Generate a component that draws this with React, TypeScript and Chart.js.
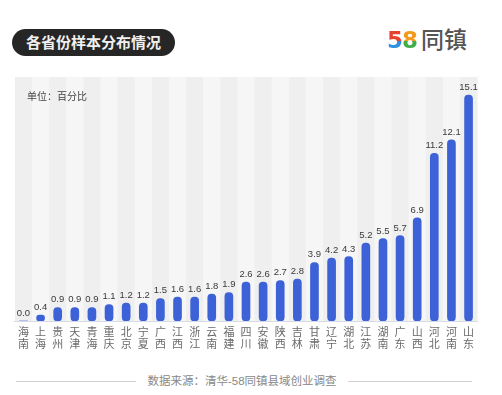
import React, { useEffect, useRef } from "react";
import { Chart, registerables } from "chart.js";

Chart.register(...registerables);

const provinces: string[] = ["海南", "上海", "贵州", "天津", "青海", "重庆", "北京", "宁夏", "广西", "江西", "浙江", "云南", "福建", "四川", "安徽", "陕西", "吉林", "甘肃", "辽宁", "湖北", "江苏", "湖南", "广东", "山西", "河北", "河南", "山东"];
const shares: number[] = [0.0, 0.4, 0.9, 0.9, 0.9, 1.1, 1.2, 1.2, 1.5, 1.6, 1.6, 1.8, 1.9, 2.6, 2.6, 2.7, 2.8, 3.9, 4.2, 4.3, 5.2, 5.5, 5.7, 6.9, 11.2, 12.1, 15.1];
const titleText = "各省份样本分布情况";
const unitText = "单位：百分比";
const sourceText = "数据来源：清华-58同镇县域创业调查";

const FONT = "'Liberation Sans', 'Noto Sans CJK SC', sans-serif";

const stripePlugin = {
  id: "stripes",
  beforeDraw(chart: any) {
    const { ctx, chartArea } = chart;
    const n = provinces.length;
    const w = (chartArea.right - chartArea.left) / n;
    ctx.save();
    for (let i = 0; i < n; i++) {
      ctx.fillStyle = i % 2 === 0 ? "#efefef" : "#f6f6f6";
      ctx.fillRect(chartArea.left + i * w, chartArea.top, w + 0.5, chartArea.bottom - chartArea.top);
    }
    ctx.restore();
  },
};

const valueLabelPlugin = {
  id: "valueLabels",
  afterDatasetsDraw(chart: any) {
    const { ctx } = chart;
    const meta = chart.getDatasetMeta(0);
    ctx.save();
    ctx.font = `9.5px ${FONT}`;
    ctx.fillStyle = "#3a3a3a";
    ctx.textAlign = "center";
    ctx.textBaseline = "bottom";
    meta.data.forEach((bar: any, i: number) => {
      ctx.fillText(shares[i].toFixed(1), bar.x, bar.y - 3);
    });
    ctx.restore();
  },
};

function App() {
  const canvasRef = useRef<HTMLCanvasElement | null>(null);

  useEffect(() => {
    if (!canvasRef.current) return;
    const chart = new Chart(canvasRef.current, {
      type: "bar",
      data: {
        labels: provinces.map((p) => p.split("")),
        datasets: [
          {
            data: shares,
            backgroundColor: "#3d62d8",
            barThickness: 8,
            borderRadius: 4,
            borderSkipped: false,
          },
        ],
      },
      options: {
        animation: false,
        responsive: true,
        maintainAspectRatio: false,
        layout: { padding: 0 },
        plugins: {
          legend: { display: false },
          tooltip: { enabled: false },
        },
        scales: {
          x: {
            offset: true,
            grid: { display: false, drawTicks: false },
            border: { display: true, color: "#d6dbe6", width: 1 },
            ticks: {
              color: "#6a6a6a",
              font: { size: 11, family: FONT, lineHeight: 1.1 },
              padding: 6,
              maxRotation: 0,
              autoSkip: false,
            },
            afterFit(scale: any) {
              scale.height = 36;
            },
          },
          y: {
            display: false,
            min: 0,
            max: 16.3,
          },
        },
      },
      plugins: [stripePlugin, valueLabelPlugin],
    });
    return () => chart.destroy();
  }, []);

  const digitStyle = (top: string, bottom: string): React.CSSProperties => ({
    background: `linear-gradient(180deg, ${top} 0%, ${top} 52%, ${bottom} 52%, ${bottom} 100%)`,
    WebkitBackgroundClip: "text",
    backgroundClip: "text",
    color: "transparent",
    fontFamily: "'DejaVu Sans', sans-serif",
    fontWeight: 700,
    fontSize: 23,
  });

  return (
    <div style={{ position: "absolute", left: 0, top: 0, width: 502, height: 395, background: "#fff", fontFamily: FONT, overflow: "hidden" }}>
      <div
        style={{
          position: "absolute",
          left: 12,
          top: 29,
          width: 163,
          height: 27,
          borderRadius: 13.5,
          background: "#262626",
          color: "#f0f0f0",
          fontSize: 15,
          fontWeight: 700,
          lineHeight: "27px",
          textAlign: "center",
        }}
      >
        {titleText}
      </div>
      <div style={{ position: "absolute", left: 387, top: 26, height: 28, display: "flex", alignItems: "center", lineHeight: "28px", letterSpacing: -1 }}>
        <span style={digitStyle("#e8412f", "#2f8fe0")}>5</span>
        <span style={digitStyle("#f39a1e", "#3fae49")}>8</span>
        <span style={{ color: "#555", fontWeight: 500, fontSize: 23, marginLeft: 4, letterSpacing: 0 }}>同镇</span>
      </div>
      <div style={{ position: "absolute", left: 12, top: 77, width: 468, height: 280 }}>
        <canvas ref={canvasRef} />
      </div>
      <div style={{ position: "absolute", left: 27, top: 90, fontSize: 10, color: "#444", lineHeight: "14px" }}>{unitText}</div>
      <div style={{ position: "absolute", left: 16, top: 381, width: 120, height: 1, background: "#d0d0d0" }} />
      <div style={{ position: "absolute", left: 348, top: 381, width: 124, height: 1, background: "#d0d0d0" }} />
      <div style={{ position: "absolute", left: 136, width: 212, top: 374, fontSize: 11.5, color: "#888", lineHeight: "14px", textAlign: "center", whiteSpace: "nowrap" }}>
        {sourceText}
      </div>
    </div>
  );
}

export default App;
